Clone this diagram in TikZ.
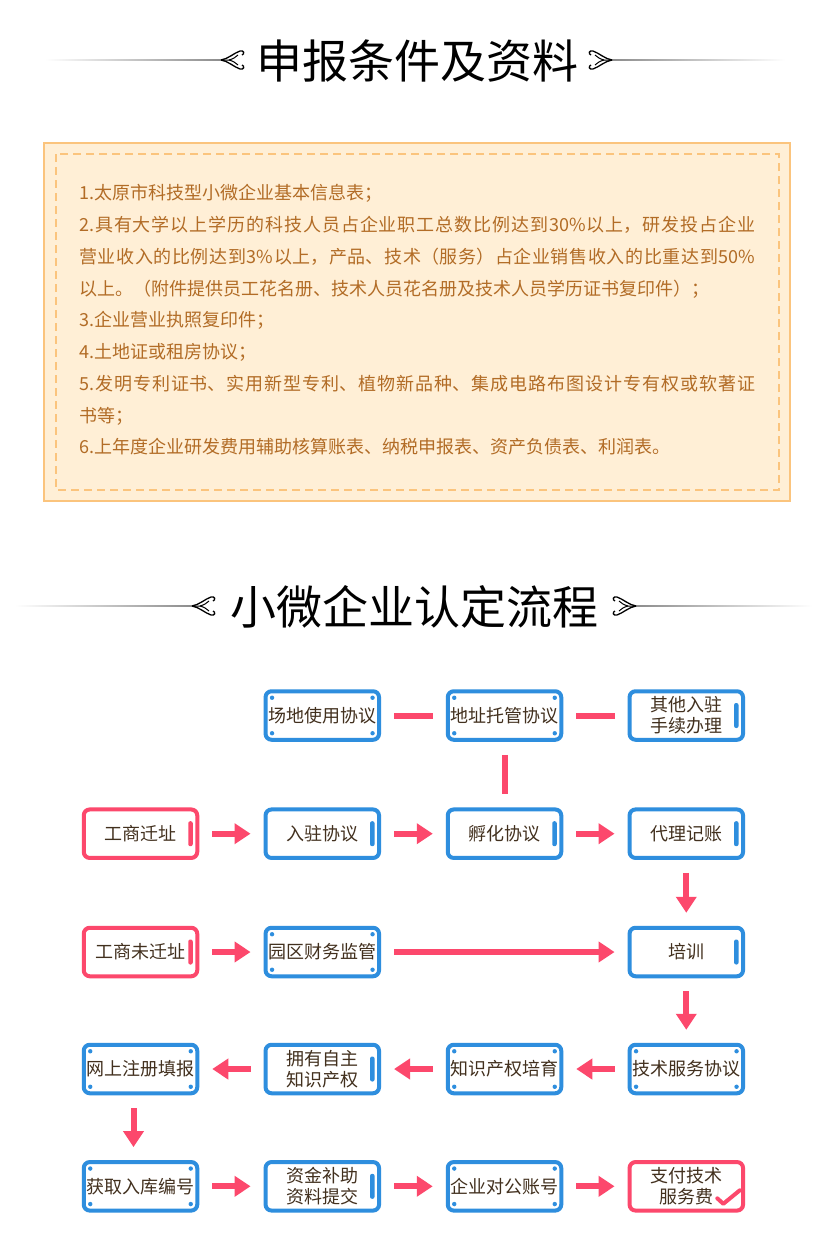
\documentclass[tikz,border=0pt]{standalone}
\usepackage{fontspec}
\setmainfont{Noto Sans CJK SC}
\usetikzlibrary{arrows.meta}
\XeTeXlinebreaklocale "zh"
\XeTeXlinebreakskip=0pt plus 1pt
\definecolor{fblue}{RGB}{46,142,222}
\definecolor{fred}{RGB}{252,72,108}
\definecolor{ftext}{RGB}{66,48,30}
\definecolor{notefill}{RGB}{255,239,214}
\definecolor{noteline}{RGB}{251,196,125}
\definecolor{notetext}{RGB}{178,108,38}
\tikzset{
  orn/.pic={
    \draw[line width=1.3pt] (0,0) .. controls (7,-1) and (13,-7) .. (19,-9) .. controls (23,-10) and (24,-6) .. (21,-5);
    \draw[line width=1.3pt] (0,0) .. controls (7,1) and (13,7) .. (19,9) .. controls (23,10) and (24,6) .. (21,5);
    \draw[line width=1pt] (0,0) -- (8,0) .. controls (12,-1) and (15,-3) .. (17,-5);
    \draw[line width=1pt] (8,0) .. controls (12,1) and (15,3) .. (17,5);
  }
}
\begin{document}
\begin{tikzpicture}[x=1pt,y=-1pt,
    flowbox/.style={line width=4pt,rounded corners=6pt,fill=white,minimum width=113.5pt,minimum height=48.5pt,
      inner sep=0pt,align=center,text=ftext,font=\fontsize{18}{21}\selectfont},
    dotbox/.style={flowbox,draw=#1,path picture={
      \fill[#1] ([shift={(6.5pt,-6.5pt)}]path picture bounding box.north west) circle (2.2pt)
        ([shift={(-6.5pt,-6.5pt)}]path picture bounding box.north east) circle (2.2pt)
        ([shift={(6.5pt,6.5pt)}]path picture bounding box.south west) circle (2.2pt)
        ([shift={(-6.5pt,6.5pt)}]path picture bounding box.south east) circle (2.2pt);}},
    barbox/.style={flowbox,draw=#1,path picture={
      \fill[#1,rounded corners=2pt] ([shift={(-9pt,12.5pt)}]path picture bounding box.east)
        rectangle ([shift={(-4.5pt,-12.5pt)}]path picture bounding box.east);}},
    link/.style={draw=fred,line width=6pt,shorten <=13pt,shorten >=13pt},
    flow/.style={link,-{Triangle[width=20pt,length=16pt]}},
    heading/.style={inner sep=0pt,font=\fontsize{46}{46}\selectfont}]
    \fill[white] (0,0) rectangle (826,1243);
    \useasboundingbox (0,0) rectangle (826,1243);

    % first heading
    \shade[left color=white,right color=black!45] (45,59.3) rectangle (221,60.8);
    \shade[left color=black!45,right color=white] (612,59.3) rectangle (785,60.8);
    \pic at (221,60) {orn};
    \pic[xscale=-1] at (612,60) {orn};
    \node[heading] (head1) at (417,61) {申报条件及资料};

    % conditions
    \draw[noteline,fill=notefill,line width=2.5pt] (44,143) rectangle (790,501);
    \draw[noteline,line width=1.8pt,dash pattern=on 8pt off 5pt] (56,154) rectangle (779,490);
    \node[anchor=base west,inner sep=0pt,text width=676pt,align=justify,text=notetext,
      font=\fontsize{18}{31.75}\selectfont] (notes) at (79,199.8) {%
      1.太原市科技型小微企业基本信息表；\\%
      2.具有大学以上学历的科技人员占企业职工总数比例达到30\%以上，研发投占企业\linebreak%
      营业收入的比例达到3\%以上，产品、技术（服务）占企业销售收入的比重达到50\%\linebreak%
      以上。（附件提供员工花名册、技术人员花名册及技术人员学历证书复印件）；\\%
      3.企业营业执照复印件；\\%
      4.土地证或租房协议；\\%
      5.发明专利证书、实用新型专利、植物新品种、集成电路布图设计专有权或软著证\linebreak%
      书等；\\%
      6.上年度企业研发费用辅助核算账表、纳税申报表、资产负债表、利润表。};

    % second heading
    \shade[left color=white,right color=black!45] (15,605.3) rectangle (192,606.8);
    \shade[left color=black!45,right color=white] (636,605.3) rectangle (812,606.8);
    \pic at (192,606) {orn};
    \pic[xscale=-1] at (636,606) {orn};
    \node[heading] (head2) at (414,607) {小微企业认定流程};

    % flow boxes
    \node[dotbox=fblue] (site) at (322.3,715.5) {场地使用协议};
    \node[dotbox=fblue] (addr) at (504.5,715.5) {地址托管协议};
    \node[barbox=fblue] (other) at (686.3,715.5) {其他入驻\\手续办理};
    \node[barbox=fred] (move) at (140.5,833.7) {工商迁址};
    \node[barbox=fblue] (enter) at (322.3,833.7) {入驻协议};
    \node[barbox=fblue] (hatch) at (504.5,833.7) {孵化协议};
    \node[barbox=fblue] (agent) at (686.3,833.7) {代理记账};
    \node[barbox=fred] (stay) at (140.5,952) {工商未迁址};
    \node[dotbox=fblue] (fin) at (322.3,952) {园区财务监管};
    \node[barbox=fblue] (train) at (686.3,952) {培训};
    \node[dotbox=fblue] (net) at (140.5,1069) {网上注册填报};
    \node[barbox=fblue] (own) at (322.3,1069) {拥有自主\\知识产权};
    \node[dotbox=fblue] (ipr) at (504.5,1069) {知识产权培育};
    \node[dotbox=fblue] (tech) at (686.3,1069) {技术服务协议};
    \node[dotbox=fblue] (code) at (140.5,1186.3) {获取入库编号};
    \node[barbox=fblue] (fund) at (322.3,1186.3) {资金补助\\资料提交};
    \node[dotbox=fblue] (acct) at (504.5,1186.3) {企业对公账号};
    \node[flowbox,draw=fred] (pay) at (686.3,1186.3) {支付技术\\服务费};
    \draw[fred,line width=4pt,line cap=round,line join=round] ([shift={(31,12)}]pay.center)
      -- ([shift={(37,17.5)}]pay.center) -- ([shift={(53.5,4)}]pay.center);

    % connectors
    \draw[link] (site) -- (addr);
    \draw[link] (addr) -- (other);
    \draw[link] (addr) -- (hatch);
    \draw[flow] (move) -- (enter);
    \draw[flow] (enter) -- (hatch);
    \draw[flow] (hatch) -- (agent);
    \draw[flow] (agent) -- (train);
    \draw[flow] (stay) -- (fin);
    \draw[flow] (fin) -- (train);
    \draw[flow] (train) -- (tech);
    \draw[flow] (tech) -- (ipr);
    \draw[flow] (ipr) -- (own);
    \draw[flow] (own) -- (net);
    \draw[flow] ([xshift=-7pt]net.south) -- ([xshift=-7pt]code.north);
    \draw[flow] (code) -- (fund);
    \draw[flow] (fund) -- (acct);
    \draw[flow] (acct) -- (pay);
\end{tikzpicture}
\end{document}
